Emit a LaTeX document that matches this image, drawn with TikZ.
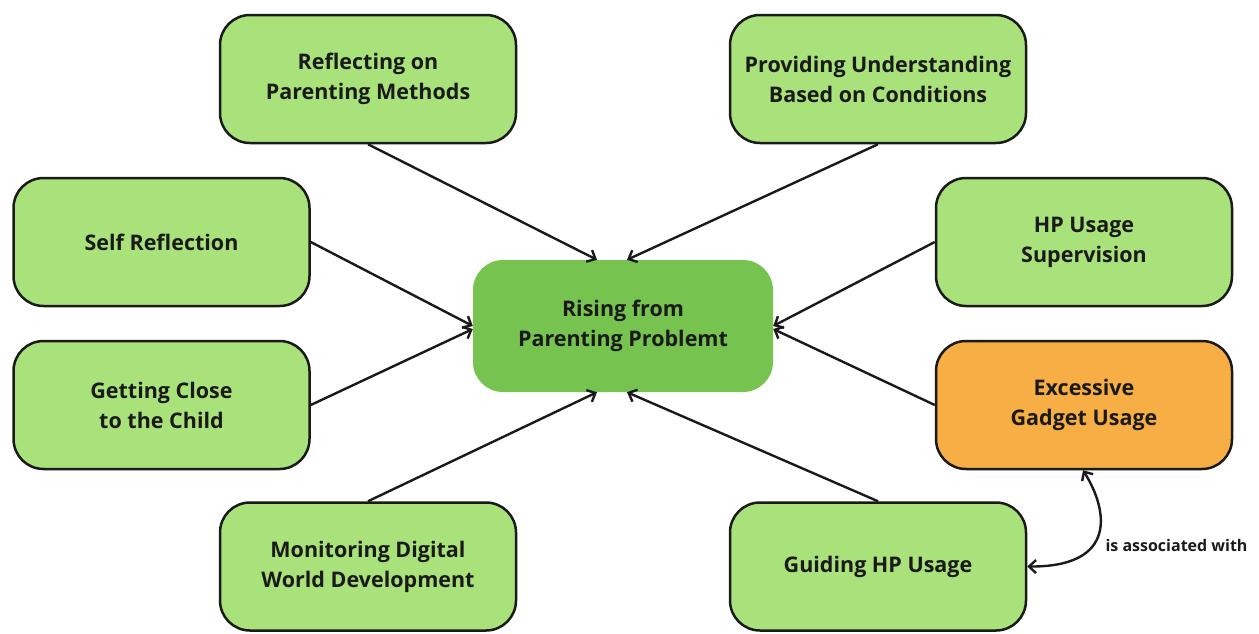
\documentclass[tikz,border=0pt]{standalone}
\usepackage{fontspec}
\setmainfont{Open Sans}
\usetikzlibrary{arrows.meta,positioning}
\definecolor{lgreen}{HTML}{A9E27B}
\definecolor{cgreen}{HTML}{76C350}
\definecolor{orng}{HTML}{F6AE45}
\definecolor{txt}{HTML}{1A1A1A}
\tikzset{
  box/.style={draw=txt, line width=2.5pt, rounded corners=30pt, fill=lgreen,
    minimum width=296pt, minimum height=128pt, align=center, text=txt,
    font=\fontsize{21.5}{30}\selectfont\bfseries},
  hub/.style={rounded corners=30pt, fill=cgreen, minimum width=300pt, minimum height=132pt,
    align=center, text=txt, font=\fontsize{21.5}{30}\selectfont\bfseries},
  conn/.style={draw=txt, line width=2.4pt, -{Straight Barb[length=7pt,width=13pt,line width=2.4pt]}},
  assoc/.style={draw=txt, line width=2.4pt, {Straight Barb[length=7pt,width=13pt,line width=2.4pt]}-{Straight Barb[length=7pt,width=13pt,line width=2.4pt]}},
  lbl/.style={text=txt, font=\fontsize{16}{19}\selectfont\bfseries}
}
\begin{document}
\begin{tikzpicture}[x=1pt,y=-1pt]
\useasboundingbox (0,0) rectangle (1259,633);
\node[hub] (c) at (623,326) {Rising from\\Parenting Problemt};
\node[box] (refl) at (368,79) {Reflecting on\\Parenting Methods};
\node[box] (prov) at (878,79) {Providing Understanding\\Based on Conditions};
\node[box] (self) at (161.5,242) {Self Reflection};
\node[box] (close) at (161.5,405) {Getting Close\\to the Child};
\node[box] (hps) at (1084,242) {HP Usage\\Supervision};
\node[box, fill=orng] (exc) at (1084,405) {Excessive\\Gadget Usage};
\node[box] (mon) at (368,566.5) {Monitoring Digital\\World Development};
\node[box] (guide) at (878,566.5) {Guiding HP Usage};

\draw[conn] (refl.south) -- ([xshift=-26pt]c.north);
\draw[conn] (prov.south) -- ([xshift=4pt]c.north);
\draw[conn] (self.east) -- ([yshift=0pt]c.west);
\draw[conn] (close.east) -- ([yshift=-3pt]c.west);
\draw[conn] (hps.west) -- ([yshift=0pt]c.east);
\draw[conn] (exc.west) -- ([yshift=-3pt]c.east);
\draw[conn] (mon.north) -- ([xshift=-26pt]c.south);
\draw[conn] (guide.north) -- ([xshift=4pt]c.south);

\draw[assoc] ([xshift=-1pt]exc.south) .. controls (1108,510) and (1118,567) .. (guide.east);
\node[lbl, anchor=west] (al) at (1102,545) {is associated with};
\end{tikzpicture}
\end{document}
